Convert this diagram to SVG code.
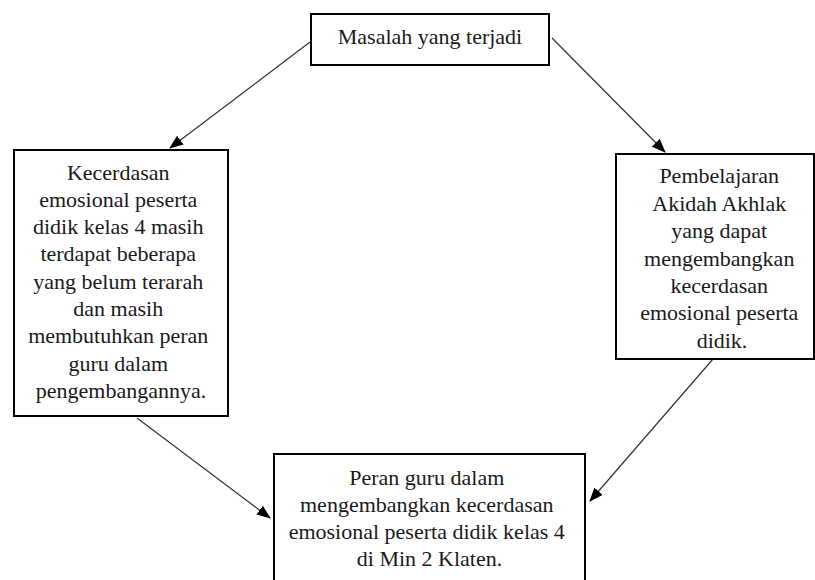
<svg xmlns="http://www.w3.org/2000/svg" width="815" height="580" viewBox="0 0 815 580">
<style>
.box{fill:#fff;stroke:#000;stroke-width:2}
.t{font-family:"Liberation Serif","Times New Roman",serif;font-size:22px;fill:#1a1a1a;text-anchor:middle}
.c{stroke:#333;stroke-width:1.2;fill:none;marker-end:url(#ah)}
</style>
<defs>
<marker id="ah" markerUnits="userSpaceOnUse" markerWidth="14" markerHeight="11" refX="13" refY="5.5" orient="auto">
<path d="M0,0 L14,5.5 L0,11 z" fill="#000"/>
</marker>
</defs>
<rect width="815" height="580" fill="#fff"/>
<g id="connectors">
<line class="c" x1="310" y1="42" x2="170" y2="148"/>
<line class="c" x1="552" y1="38" x2="665" y2="152"/>
<line class="c" x1="137" y1="418" x2="270" y2="518"/>
<line class="c" x1="713" y1="359" x2="590" y2="501"/>
</g>
<g id="node-masalah">
<rect class="box" x="311" y="14" width="238" height="51"/>
<text class="t" x="430" y="44">Masalah yang terjadi</text>
</g>
<g id="node-kecerdasan">
<rect class="box" x="14" y="150" width="214" height="266"/>
<text class="t">
<tspan x="121" y="179.5">Kecerdasan</tspan>
<tspan x="121" y="206.8">emosional peserta</tspan>
<tspan x="121" y="234.1">didik kelas 4 masih</tspan>
<tspan x="121" y="261.4">terdapat beberapa</tspan>
<tspan x="121" y="288.7">yang belum terarah</tspan>
<tspan x="121" y="316">dan masih</tspan>
<tspan x="121" y="343.3">membutuhkan peran</tspan>
<tspan x="121" y="370.6">guru dalam</tspan>
<tspan x="121" y="397.9">pengembangannya.</tspan>
</text>
</g>
<g id="node-pembelajaran">
<rect class="box" x="616" y="154" width="198" height="205"/>
<text class="t">
<tspan x="722" y="183.3">Pembelajaran</tspan>
<tspan x="722" y="210.7">Akidah Akhlak</tspan>
<tspan x="722" y="238.1">yang dapat</tspan>
<tspan x="722" y="265.5">mengembangkan</tspan>
<tspan x="722" y="292.9">kecerdasan</tspan>
<tspan x="722" y="320.3">emosional peserta</tspan>
<tspan x="722" y="347.7">didik.</tspan>
</text>
</g>
<g id="node-peran">
<rect class="box" x="274" y="454" width="311" height="140"/>
<text class="t">
<tspan x="429.5" y="485">Peran guru dalam</tspan>
<tspan x="429.5" y="512">mengembangkan kecerdasan</tspan>
<tspan x="429.5" y="539">emosional peserta didik kelas 4</tspan>
<tspan x="429.5" y="566">di Min 2 Klaten.</tspan>
</text>
</g>
</svg>
